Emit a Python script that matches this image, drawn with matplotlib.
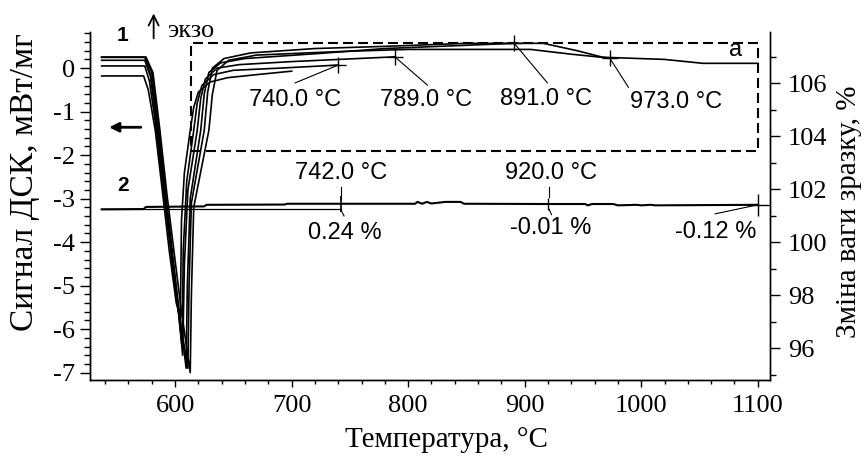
import matplotlib.pyplot as plt
from matplotlib.patches import Rectangle
from matplotlib.ticker import MultipleLocator

plt.rcParams['font.family'] = ['Liberation Serif', 'DejaVu Serif']
SANS = ['Liberation Sans', 'DejaVu Sans']

# ДСК криві (1), нагрів до різних температур
t_700 = [537, 573, 577, 583, 589, 595, 601, 604.5, 605.5, 608, 613, 616, 620, 630, 645, 670, 700]
s_700 = [-0.18, -0.18, -0.5, -1.43, -2.8, -4.2, -5.4, -5.75, -3.5, -2.4, -1.43, -0.9, -0.55, -0.32, -0.22, -0.15, -0.07]

t_740 = [537, 574, 578, 584, 590, 596, 602, 606, 607, 610, 616, 619, 623, 633, 650, 690, 740]
s_740 = [0.05, 0.05, -0.3, -1.43, -2.8, -4.1, -5.4, -6.4, -4.2, -2.6, -1.43, -0.8, -0.4, -0.15, -0.05, 0.0, 0.07]

t_789 = [537, 574, 579, 585, 591, 597, 603, 606.5, 608, 611, 619, 622, 626, 636, 655, 700, 789]
s_789 = [0.18, 0.18, -0.2, -1.43, -2.9, -4.3, -5.6, -6.6, -4.5, -2.8, -1.43, -0.7, -0.25, 0.0, 0.08, 0.15, 0.26]

t_891 = [537, 575, 580, 586, 592, 598, 604, 609.5, 610.5, 613, 622, 625, 629, 639, 660, 720, 780, 891]
s_891 = [0.25, 0.25, -0.1, -1.43, -2.9, -4.3, -5.7, -6.9, -5.0, -3.0, -1.43, -0.6, -0.1, 0.12, 0.22, 0.33, 0.45, 0.57]

t_973 = [537, 575, 581, 587, 593, 599, 605, 613, 614, 616, 629, 632, 636, 646, 670, 740, 800, 905, 940, 973]
s_973 = [0.25, 0.25, -0.1, -1.43, -2.9, -4.2, -5.5, -7.0, -5.2, -3.2, -1.43, -0.6, -0.05, 0.18, 0.3, 0.38, 0.43, 0.43, 0.32, 0.23]

t_1100 = [537, 574, 579, 585, 591, 597, 603, 611, 612, 614, 625, 628, 632, 642, 665, 720, 780, 850, 916, 945, 967, 1020, 1053, 1100]
s_1100 = [0.25, 0.25, -0.15, -1.43, -2.9, -4.3, -5.6, -6.9, -5.0, -3.1, -1.43, -0.55, 0.0, 0.22, 0.35, 0.45, 0.5, 0.57, 0.57, 0.4, 0.25, 0.2, 0.11, 0.11]

dsc_t = [t_700, t_740, t_789, t_891, t_973, t_1100]
dsc_s = [s_700, s_740, s_789, s_891, s_973, s_1100]

# ТГ крива (2)
tg_t = [537, 573, 575, 625, 627, 694, 696, 742, 806, 808, 812, 816, 820, 832, 835, 845, 848,
        922, 952, 954, 958, 976, 980, 996, 1000, 1008, 1012, 1100]
tg_w = [101.25, 101.26, 101.34, 101.36, 101.42, 101.43, 101.46, 101.46, 101.46, 101.53, 101.46,
        101.53, 101.47, 101.53, 101.53, 101.53, 101.46, 101.45, 101.45, 101.4, 101.45, 101.45,
        101.4, 101.42, 101.4, 101.42, 101.4, 101.42]
base_t = [537, 742]
base_w = [101.25, 101.25]

# позначки
peak_t = [740, 789, 891, 973]
peak_s = [0.07, 0.25, 0.57, 0.23]
peak_lbl = ['740.0 °C', '789.0 °C', '891.0 °C', '973.0 °C']
peak_txt = [(703, -0.74), (815, -0.74), (918, -0.71), (1030, -0.78)]
peak_end = [(703, -0.34), (816.5, -0.39), (919.5, -0.34), (989, -0.44)]

fig = plt.figure(figsize=(8.68, 4.58), dpi=100)
ax = fig.add_axes([0.1037, 0.1703, 0.7834, 0.7598])
ax2 = ax.twinx()

for t, s in zip(dsc_t, dsc_s):
    ax.plot(t, s, color='black', lw=1.2)

ax.set_xlim(527, 1110.5)
ax.set_ylim(-7.17, 0.83)
ax2.set_ylim(94.81, 107.94)

ax.xaxis.set_major_locator(MultipleLocator(100))
ax.xaxis.set_minor_locator(MultipleLocator(20))
ax.yaxis.set_major_locator(MultipleLocator(1))
ax.yaxis.set_minor_locator(MultipleLocator(0.2))
ax2.yaxis.set_major_locator(MultipleLocator(2))
ax2.yaxis.set_minor_locator(MultipleLocator(1))
ax.yaxis.set_major_formatter(plt.FuncFormatter(lambda v, p: '%d' % round(v)))

for a in (ax, ax2):
    a.spines['top'].set_visible(False)
    for sp in a.spines.values():
        sp.set_linewidth(1.0)
ax.tick_params(axis='x', which='major', direction='out', length=5, width=1, labelsize=19, pad=6)
ax.tick_params(axis='x', which='minor', direction='out', length=3, width=1)
ax.tick_params(axis='y', which='major', direction='out', length=7, width=1, labelsize=19, pad=4)
ax.tick_params(axis='y', which='minor', direction='out', length=4, width=1)
ax2.tick_params(axis='y', which='major', direction='out', length=7, width=1, labelsize=19, pad=6)
ax2.tick_params(axis='y', which='minor', direction='out', length=4, width=1)

# ТГ
ax2.plot(tg_t, tg_w, color='black', lw=1.5)
ax2.plot(base_t, base_w, color='black', lw=0.9)
ax2.plot([742], [101.45], marker='|', ms=12, mew=1.2, color='black')
ax2.plot([920], [101.45], marker='|', ms=8, mew=1.0, color='black')
ax2.plot([1100], [101.42], marker='+', ms=16, mew=1.0, color='black')
ax2.plot([742, 742], [102.1, 101.65], color='black', lw=0.8)
ax2.plot([742, 745], [101.25, 101.0], color='black', lw=0.8)
ax2.plot([921, 921], [102.1, 101.7], color='black', lw=0.8)
ax2.plot([921, 923], [101.25, 101.05], color='black', lw=0.8)
ax2.plot([1100, 1063.5], [101.42, 101.08], color='black', lw=0.8)

ax2.text(742, 102.62, '742.0 °C', family=SANS, fontsize=17, ha='center', va='center')
ax2.text(923, 102.62, '920.0 °C', family=SANS, fontsize=17, ha='center', va='center')
ax2.text(746, 100.36, '0.24 %', family=SANS, fontsize=17, ha='center', va='center')
ax2.text(922, 100.55, '-0.01 %', family=SANS, fontsize=17, ha='center', va='center')
ax2.text(1063.5, 100.4, '-0.12 %', family=SANS, fontsize=17, ha='center', va='center')

# ДСК піки
for t, s, lbl, (tx, ty), (ex, ey) in zip(peak_t, peak_s, peak_lbl, peak_txt, peak_end):
    ax.plot([t], [s], marker='+', ms=12, mew=1.0, color='black')
    ax.plot([t, ex], [s, ey], color='black', lw=0.8)
    ax.text(tx, ty, lbl, family=SANS, fontsize=17, ha='center', va='center')

# рамка
ax.add_patch(Rectangle((613.3, -1.90), 1100.4 - 613.3, 0.568 + 1.90, fill=False,
                       edgecolor='black', lw=1.5, linestyle=(0, (4.8, 2.4))))
ax.text(1080.7, 0.41, 'а', family=SANS, fontsize=17, ha='center', va='center')

ax.text(555, 0.76, '1', family=SANS, fontsize=15, fontweight='bold', ha='center', va='center')
ax.text(555, -2.69, '2', family=SANS, fontsize=15, fontweight='bold', ha='center', va='center')

# екзо
ax.annotate('', xy=(581.6, 1.32), xytext=(581.6, 0.62), xycoords='data',
            arrowprops=dict(arrowstyle='->', lw=1.3, color='black', mutation_scale=18),
            annotation_clip=False)
ax.text(593.5, 0.85, 'экзо', fontsize=19, ha='left', va='center', clip_on=False)
ax.annotate('', xy=(541, -1.36), xytext=(573, -1.36),
            arrowprops=dict(arrowstyle='-|>', lw=2, color='black', mutation_scale=14))

fig.text(0.028, 1 - 182 / 458, 'Сигнал ДСК, мВт/мг', rotation=90, fontsize=24, ha='center', va='center')
fig.text(849 / 868, 1 - 212 / 458, 'Зміна ваги зразку, %', rotation=90, fontsize=21, ha='center', va='center')
fig.text(446.5 / 868, 1 - 440 / 458, 'Температура, °C', fontsize=21, ha='center', va='center')

fig.savefig('out.png', dpi=100)
